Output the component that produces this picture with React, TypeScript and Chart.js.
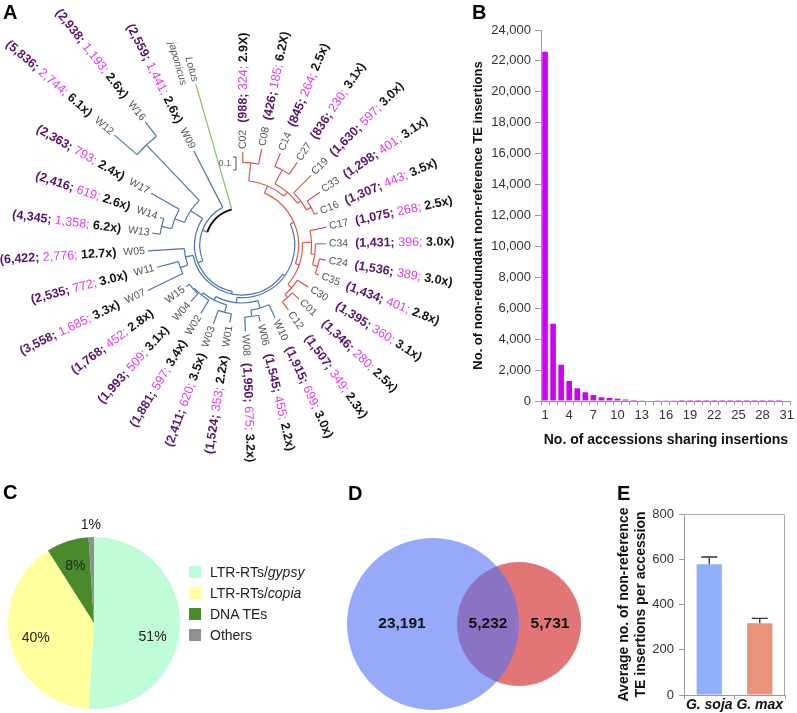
import React, { useEffect, useRef } from "react";
import { Chart, registerables } from "chart.js";

Chart.register(...registerables);

const FONT = "Arial, 'Liberation Sans', Helvetica, sans-serif";
Chart.defaults.font.family = FONT;

/* ---------------- Panel A : phylogeny ---------------- */
const leafNames = ["C02", "C08", "C14", "C27", "C19", "C33", "C16", "C17", "C34", "C24", "C35", "C30", "C01", "C12",
  "W10", "W06", "W08", "W01", "W03", "W02", "W04", "W15", "W07", "W11", "W05", "W13", "W14", "W17", "W12", "W16", "W09"];
const totalInsertions = [988, 426, 845, 836, 1630, 1298, 1307, 1075, 1431, 1536, 1434, 1395, 1346, 1507,
  1915, 1545, 1950, 1524, 2411, 1881, 1993, 1768, 3558, 2535, 6422, 4345, 2416, 2363, 5836, 2938, 2559];
const specificInsertions = [324, 185, 264, 230, 597, 401, 443, 268, 396, 389, 401, 360, 280, 349,
  699, 455, 675, 353, 620, 597, 509, 452, 1685, 772, 2776, 1358, 619, 793, 2744, 1193, 1441];
const coverageLabels = ["2.9X", "6.2X", "2.5x", "3.1x", "3.0x", "3.1x", "3.5x", "2.5x", "3.0x", "3.0x", "2.8x", "3.1x", "2.5x", "2.3x",
  "3.0x", "2.2x", "3.2x", "2.2x", "3.5x", "3.4x", "3.1x", "2.8x", "3.3x", "3.0x", "12.7x", "6.2x", "2.6x", "2.4x", "6.1x", "2.6x", "2.6x"];
const outgroupLines = ["Lotus", "japonicus"];
// Newick-like tree; the number after ':' is the node's distance from the root
const treeNewick =
  "((((((((C02:0.43,C08:0.47):0.35,((C14:0.48,C27:0.48):0.37,(C19:0.47,(C33:0.44,C16:0.35):0.32):0.28):0.25):0.21," +
  "((C17:0.38,(C34:0.36,(C24:0.37,C35:0.35):0.32):0.28):0.25,(C30:0.32,(C01:0.32,C12:0.33):0.25):0.22):0.18):0.15," +
  "((W10:0.33,(W06:0.32,W08:0.38):0.27):0.22,((W01:0.32,W03:0.36):0.25,(W02:0.33,(W04:0.30,W15:0.25):0.22):0.21):0.19):0.16):0.12," +
  "((W07:0.52,W11:0.39):0.22,W05:0.44):0.16):0.10," +
  "(((W13:0.41,W14:0.38):0.35,W17:0.52):0.27,(W12:1.01,W16:0.92):0.78):0.19):0.08,W09:0.53):0.04,Lotus:1.00):0";

/* ---------------- Panel B ---------------- */
const sharedByAccessions = [1, 2, 3, 4, 5, 6, 7, 8, 9, 10, 11, 12, 13, 14, 15, 16, 17, 18, 19, 20, 21, 22, 23, 24, 25, 26, 27, 28, 29, 30, 31];
const insertionCounts = [22600, 5000, 2350, 1300, 830, 560, 390, 250, 190, 140, 100, 70, 45, 30, 20, 15, 10, 8, 6, 5, 4, 3, 3, 2, 2, 1, 1, 1, 1, 1, 0];

/* ---------------- Panel C ---------------- */
const teClasses = ["LTR-RTs/gypsy", "LTR-RTs/copia", "DNA TEs", "Others"];
const teShares = [51, 40, 8, 1];
const teColors = ["#bffcd8", "#ffff9e", "#4b8a2a", "#909090"];

/* ---------------- Panel D ---------------- */
const vennCounts = [23191, 5232, 5731]; // G. soja only, shared, G. max only

/* ---------------- Panel E ---------------- */
const species = ["G. soja", "G. max"];
const meanInsertions = [578, 317];
const insertionErrors = [32, 22];

/* ================= helpers ================= */
type TNode = { name: string; depth: number; children: TNode[]; angle: number; leaves: string[] };

function parseTree(s: string): TNode {
  let i = 0;
  const node = (): TNode => {
    const n: TNode = { name: "", depth: 0, children: [], angle: 0, leaves: [] };
    if (s[i] === "(") {
      i++;
      n.children.push(node());
      while (s[i] === ",") { i++; n.children.push(node()); }
      i++;
    }
    let name = "";
    while (i < s.length && !",():".includes(s[i])) name += s[i++];
    n.name = name;
    if (s[i] === ":") {
      i++;
      let num = "";
      while (i < s.length && /[0-9.]/.test(s[i])) num += s[i++];
      n.depth = parseFloat(num);
    }
    return n;
  };
  return node();
}

function layoutTree(root: TNode, startDeg: number, stepDeg: number) {
  let idx = 0;
  const walk = (n: TNode) => {
    if (!n.children.length) {
      n.angle = ((startDeg + stepDeg * idx++) * Math.PI) / 180;
      n.leaves = [n.name];
      return;
    }
    n.children.forEach(walk);
    n.angle = (n.children[0].angle + n.children[n.children.length - 1].angle) / 2;
    n.leaves = n.children.flatMap((c) => c.leaves);
  };
  walk(root);
}

function collectLeaves(n: TNode, out: TNode[] = []): TNode[] {
  if (!n.children.length) out.push(n);
  else n.children.forEach((c) => collectLeaves(c, out));
  return out;
}

const fmt = (v: number) => v.toLocaleString("en-US");

const RED = "#d9594f";
const BLUE = "#4a76ad";
const GREEN = "#86c25a";

function cladeColor(n: TNode, isRoot: boolean) {
  if (isRoot) return "#111";
  if (n.leaves.every((l) => l === "Lotus")) return GREEN;
  if (n.leaves.every((l) => l.startsWith("C"))) return RED;
  return BLUE;
}

const TREE_PX = 130; // pixels per substitution unit
const ROOT_OFFSET = 0.285;
const A_W = 470, A_H = 470, A_CX = 242, A_CY = 245;

function makeTree(canvas: HTMLCanvasElement) {
  const root = parseTree(treeNewick);
  layoutTree(root, -89.5, 11.08);
  const leaves = collectLeaves(root);

  const treePlugin = {
    id: "treeDraw",
    afterDatasetsDraw(chart: any) {
      const { ctx } = chart;
      const xs = chart.scales.x, ys = chart.scales.y;
      const cx = xs.getPixelForValue(0), cy = ys.getPixelForValue(0);
      const k = xs.getPixelForValue(1) - cx;
      const P = (r: number, a: number) => [cx + r * Math.cos(a), cy + r * Math.sin(a)];
      ctx.save();
      ctx.lineCap = "butt";
      const draw = (n: TNode, parentR: number | null, isRoot: boolean) => {
        const r = (ROOT_OFFSET + n.depth) * k;
        const col = cladeColor(n, isRoot);
        if (parentR !== null) {
          ctx.strokeStyle = col;
          ctx.lineWidth = 1.2;
          const [x0, y0] = P(parentR, n.angle);
          const [x1, y1] = P(r, n.angle);
          ctx.beginPath(); ctx.moveTo(x0, y0); ctx.lineTo(x1, y1); ctx.stroke();
        }
        if (n.children.length) {
          ctx.strokeStyle = col;
          ctx.lineWidth = isRoot ? 2 : 1.2;
          ctx.beginPath();
          ctx.arc(cx, cy, r, n.children[0].angle, n.children[n.children.length - 1].angle, false);
          ctx.stroke();
          n.children.forEach((c) => draw(c, r, false));
        }
      };
      draw(root, null, true);

      // labels
      leaves.forEach((leaf) => {
        const a = leaf.angle;
        const rTip = (ROOT_OFFSET + leaf.depth) * k;
        const right = Math.cos(a) >= 0;
        ctx.save();
        ctx.translate(cx, cy);
        ctx.rotate(right ? a : a + Math.PI);
        ctx.textBaseline = "middle";
        if (leaf.name === "Lotus") {
          ctx.font = `italic 10.5px ${FONT}`;
          ctx.fillStyle = "#555";
          ctx.textAlign = right ? "left" : "right";
          outgroupLines.forEach((t, li) => {
            ctx.fillText(t, right ? rTip + 3 : -(rTip + 3), li * 12);
          });
          ctx.restore();
          return;
        }
        const idx = leafNames.indexOf(leaf.name);
        ctx.font = `10.5px ${FONT}`;
        ctx.fillStyle = "#555";
        const tipW = ctx.measureText(leaf.name).width;
        ctx.textAlign = "left";
        ctx.fillText(leaf.name, right ? rTip + 3 : -(rTip + 3 + tipW), 0);

        const segs = [
          { t: `(${fmt(totalInsertions[idx])}; `, f: `bold 12.5px ${FONT}`, c: "#56146b" },
          { t: `${fmt(specificInsertions[idx])}; `, f: `12.5px ${FONT}`, c: "#e23ce6" },
          { t: `${coverageLabels[idx]})`, f: `bold 12.5px ${FONT}`, c: "#111" },
        ];
        let total = 0;
        const widths = segs.map((s) => { ctx.font = s.f; const w = ctx.measureText(s.t).width; total += w; return w; });
        const rc = Math.max(rTip + 3 + tipW + 7, 112);
        let x = right ? rc : -(rc + total);
        segs.forEach((s, si) => {
          ctx.font = s.f;
          ctx.fillStyle = s.c;
          ctx.fillText(s.t, x, 0);
          x += widths[si];
        });
        ctx.restore();
      });

      // scale bar (0.1)
      const bx = cx - 6, by0 = cy - 88, by1 = by0 + 0.1 * k;
      ctx.strokeStyle = "#555";
      ctx.lineWidth = 1;
      ctx.beginPath();
      ctx.moveTo(bx - 3, by0); ctx.lineTo(bx, by0); ctx.lineTo(bx, by1); ctx.lineTo(bx - 3, by1);
      ctx.stroke();
      ctx.font = `9px ${FONT}`;
      ctx.fillStyle = "#666";
      ctx.textAlign = "right";
      ctx.textBaseline = "middle";
      ctx.fillText("0.1", bx - 5, (by0 + by1) / 2);
      ctx.restore();
    },
  };

  return new Chart(canvas, {
    type: "scatter",
    data: {
      datasets: [{
        data: leaves.map((l) => ({
          x: (ROOT_OFFSET + l.depth) * Math.cos(l.angle),
          y: (ROOT_OFFSET + l.depth) * Math.sin(l.angle),
        })),
        pointRadius: 0,
      }],
    },
    options: {
      animation: false, responsive: false, devicePixelRatio: 1,
      layout: { padding: 0 },
      plugins: { legend: { display: false }, tooltip: { enabled: false } },
      scales: {
        x: { type: "linear", display: false, min: -A_CX / TREE_PX, max: (A_W - A_CX) / TREE_PX },
        y: { type: "linear", display: false, reverse: true, min: -A_CY / TREE_PX, max: (A_H - A_CY) / TREE_PX },
      },
    } as any,
    plugins: [treePlugin],
  });
}

function makeBarB(canvas: HTMLCanvasElement) {
  return new Chart(canvas, {
    type: "bar",
    data: {
      labels: sharedByAccessions.map(String),
      datasets: [{
        data: insertionCounts,
        backgroundColor: "#d000f5",
        barPercentage: 0.7,
        categoryPercentage: 1,
      }],
    },
    options: {
      animation: false, responsive: false, devicePixelRatio: 1,
      layout: { padding: { top: 30, right: 2, left: 0, bottom: 0 } },
      plugins: { legend: { display: false }, tooltip: { enabled: false } },
      scales: {
        x: {
          grid: { drawOnChartArea: false, tickLength: 4, color: "#999" },
          border: { color: "#999" },
          ticks: {
            autoSkip: false, maxRotation: 0, minRotation: 0, padding: 3,
            font: { size: 13 }, color: "#333",
            callback: (_v: any, i: number) => (i % 3 === 0 ? String(sharedByAccessions[i]) : ""),
          },
          title: { display: true, text: "No. of accessions sharing insertions", font: { size: 14, weight: "bold" }, color: "#111" },
          afterFit: (s: any) => { s.height = 52; },
        },
        y: {
          min: 0, max: 24000,
          grid: { drawOnChartArea: false, tickLength: 6, color: "#999" },
          border: { color: "#999" },
          ticks: { stepSize: 2000, padding: 4, font: { size: 13 }, color: "#333", callback: (v: any) => fmt(Number(v)) },
          title: { display: true, text: "No. of non-redundant non-reference TE insertions", font: { size: 13, weight: "bold" }, color: "#111" },
          afterFit: (s: any) => { s.width = 74; },
        },
      },
    } as any,
  });
}

function makePie(canvas: HTMLCanvasElement) {
  const labelPlugin = {
    id: "pieLabels",
    afterDatasetsDraw(chart: any) {
      const ctx = chart.ctx;
      const meta = chart.getDatasetMeta(0);
      ctx.save();
      ctx.font = `14px ${FONT}`;
      ctx.fillStyle = "#222";
      ctx.textAlign = "center";
      ctx.textBaseline = "middle";
      meta.data.forEach((arc: any, i: number) => {
        const p = arc.getProps(["x", "y", "startAngle", "endAngle", "outerRadius"], true);
        const mid = (p.startAngle + p.endAngle) / 2 + (i === 0 ? 0.2 : 0);
        const r = teShares[i] < 5 ? p.outerRadius + 12 : p.outerRadius * 0.7;
        ctx.fillText(`${teShares[i]}%`, p.x + r * Math.cos(mid), p.y + r * Math.sin(mid));
      });
      ctx.restore();
    },
  };
  return new Chart(canvas, {
    type: "pie",
    data: { labels: teClasses, datasets: [{ data: teShares, backgroundColor: teColors, borderWidth: 0 }] },
    options: {
      animation: false, responsive: false, devicePixelRatio: 1,
      layout: { padding: { left: 8, right: 10, top: 67, bottom: 4 } },
      plugins: { legend: { display: false }, tooltip: { enabled: false } },
    } as any,
    plugins: [labelPlugin],
  });
}

// Venn layout (pixels inside the panel D canvas)
const D_W = 270, D_H = 243, D_UNIT = 86, D_BX = 93, D_CY = 154;
const D_BLUE_R = 86, D_RED_R = 62;

function makeVenn(canvas: HTMLCanvasElement) {
  // bubble charts inset the chart area by the largest bubble radius
  const ov = Math.max(D_BLUE_R, D_RED_R);
  const xMin = (ov - D_BX) / D_UNIT;
  const yMin = (ov - D_CY) / D_UNIT;
  const labelPlugin = {
    id: "vennLabels",
    afterDatasetsDraw(chart: any) {
      const ctx = chart.ctx;
      const b = chart.getDatasetMeta(0).data[0];
      const r = chart.getDatasetMeta(1).data[0];
      const rb = b.options.radius, rr = r.options.radius;
      const xs = [
        (b.x - rb + (r.x - rr)) / 2,
        (r.x - rr + (b.x + rb)) / 2,
        (b.x + rb + (r.x + rr)) / 2,
      ];
      ctx.save();
      ctx.font = `bold 15.5px ${FONT}`;
      ctx.fillStyle = "#111";
      ctx.textAlign = "center";
      ctx.textBaseline = "middle";
      vennCounts.forEach((v, i) => ctx.fillText(fmt(v), xs[i], b.y));
      ctx.restore();
    },
  };
  return new Chart(canvas, {
    type: "bubble",
    data: {
      datasets: [
        { label: "G. soja", data: [{ x: 0, y: 0 }], radius: D_BLUE_R, hoverRadius: 0, backgroundColor: "rgba(82,114,247,0.6)", borderWidth: 0, clip: false },
        { label: "G. max", data: [{ x: 1, y: 0 }], radius: D_RED_R, hoverRadius: 0, backgroundColor: "rgb(226,118,118)", borderWidth: 0, clip: false },
      ],
    },
    options: {
      animation: false, responsive: false, devicePixelRatio: 1,
      layout: { padding: 0 },
      plugins: { legend: { display: false }, tooltip: { enabled: false } },
      scales: {
        x: { display: false, min: xMin, max: xMin + (D_W - 2 * ov) / D_UNIT },
        y: { display: false, reverse: true, min: yMin, max: yMin + (D_H - 2 * ov) / D_UNIT },
      },
    } as any,
    plugins: [labelPlugin],
  });
}

function makeBarE(canvas: HTMLCanvasElement) {
  const errPlugin = {
    id: "errBars",
    afterDatasetsDraw(chart: any) {
      const ctx = chart.ctx;
      const ys = chart.scales.y;
      const { left, right, top, bottom } = chart.chartArea;
      ctx.save();
      ctx.strokeStyle = "#aaa";
      ctx.lineWidth = 1;
      ctx.beginPath();
      ctx.moveTo(left, top + 0.5); ctx.lineTo(right - 0.5, top + 0.5); ctx.lineTo(right - 0.5, bottom);
      ctx.stroke();
      ctx.strokeStyle = "#333";
      ctx.lineWidth = 1.3;
      chart.getDatasetMeta(0).data.forEach((bar: any, i: number) => {
        const yTop = ys.getPixelForValue(meanInsertions[i] + insertionErrors[i]);
        ctx.beginPath();
        ctx.moveTo(bar.x, bar.y); ctx.lineTo(bar.x, yTop);
        ctx.moveTo(bar.x - 8, yTop); ctx.lineTo(bar.x + 8, yTop);
        ctx.stroke();
      });
      ctx.restore();
    },
  };
  return new Chart(canvas, {
    type: "bar",
    data: {
      labels: species,
      datasets: [{ data: meanInsertions, backgroundColor: ["#8fb0f8", "#e8937a"], barPercentage: 0.5, categoryPercentage: 1 }],
    },
    options: {
      animation: false, responsive: false, devicePixelRatio: 1,
      layout: { padding: { top: 44, right: 12, left: 0, bottom: 0 } },
      plugins: { legend: { display: false }, tooltip: { enabled: false } },
      scales: {
        x: {
          grid: { drawOnChartArea: false, tickLength: 4, color: "#999" },
          border: { color: "#999" },
          ticks: { autoSkip: false, maxRotation: 0, minRotation: 0, padding: -2, font: { size: 14, weight: "bold", style: "italic" }, color: "#111" },
          afterFit: (s: any) => { s.height = 18; },
        },
        y: {
          min: 0, max: 800,
          grid: { drawOnChartArea: false, tickLength: 5, color: "#999" },
          border: { color: "#999" },
          ticks: { stepSize: 200, padding: 5, font: { size: 13 }, color: "#333" },
          title: {
            display: true, text: ["Average no. of non-reference", "TE insertions per accession"],
            font: { size: 14, weight: "bold" }, color: "#111", padding: 0,
          },
          afterFit: (s: any) => { s.width = 68; },
        },
      },
    } as any,
    plugins: [errPlugin],
  });
}

const letterStyle = (left: number, capTop: number): React.CSSProperties => ({
  position: "absolute", left, top: capTop - 2.6, fontSize: 20, lineHeight: "20px",
  fontWeight: "bold", fontFamily: FONT, color: "#000",
});

export default function App() {
  const refA = useRef<HTMLCanvasElement>(null);
  const refB = useRef<HTMLCanvasElement>(null);
  const refC = useRef<HTMLCanvasElement>(null);
  const refD = useRef<HTMLCanvasElement>(null);
  const refE = useRef<HTMLCanvasElement>(null);

  useEffect(() => {
    const charts = [
      makeTree(refA.current!),
      makeBarB(refB.current!),
      makePie(refC.current!),
      makeVenn(refD.current!),
      makeBarE(refE.current!),
    ];
    return () => charts.forEach((c) => c.destroy());
  }, []);

  const cv = (left: number, top: number, w: number, h: number): React.CSSProperties => ({
    position: "absolute", left, top, width: w, height: h,
  });

  return (
    <div style={{ position: "fixed", left: 0, top: 0, width: 797, height: 713, background: "#fff", overflow: "hidden", fontFamily: FONT }}>
      <canvas ref={refA} width={A_W} height={A_H} style={cv(0, 0, A_W, A_H)} />
      <canvas ref={refB} width={330} height={453} style={cv(467, 0, 330, 453)} />
      <canvas ref={refC} width={190} height={243} style={cv(0, 470, 190, 243)} />
      <canvas ref={refD} width={D_W} height={D_H} style={cv(340, 470, D_W, D_H)} />
      <canvas ref={refE} width={181} height={243} style={cv(616, 470, 181, 243)} />

      <div style={letterStyle(3, 5)}>A</div>
      <div style={letterStyle(472, 5)}>B</div>
      <div style={letterStyle(3, 485)}>C</div>
      <div style={letterStyle(348, 486)}>D</div>
      <div style={letterStyle(617, 486)}>E</div>

      {teClasses.map((name, i) => {
        const [a, b] = name.split("/");
        return (
          <div key={name} style={{ position: "absolute", left: 189, top: 564 + i * 21, height: 16, display: "flex", alignItems: "center", fontSize: 14, color: "#222", whiteSpace: "nowrap" }}>
            <span style={{ display: "inline-block", width: 12, height: 12, background: teColors[i], marginRight: 9 }} />
            <span>{a}{b !== undefined ? "/" : ""}{b !== undefined ? <i>{b}</i> : null}</span>
          </div>
        );
      })}
    </div>
  );
}
